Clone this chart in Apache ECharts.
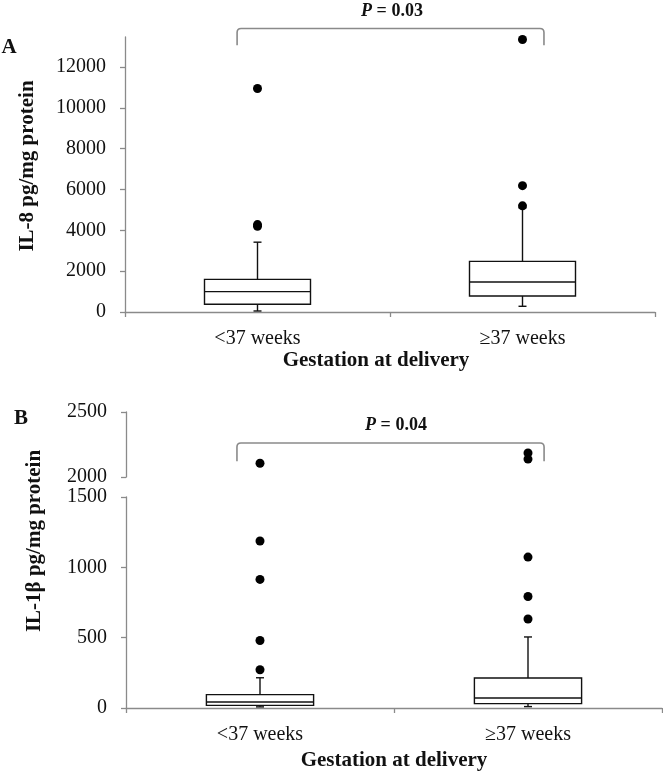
<!DOCTYPE html>
<html><head><meta charset="utf-8">
<script src="https://cdn.jsdelivr.net/npm/echarts@6/dist/echarts.min.js"></script>
<style>html,body{margin:0;padding:0;background:#fff}#c{width:663px;height:776px}</style>
</head><body><div id="c"></div>
<script>
// ---- data ----
const categories = ['<37 weeks', '≥37 weeks'];
// [whisker low, Q1, median, Q3, whisker high]
const il8Box = [[50, 380, 1000, 1600, 3420], [280, 785, 1470, 2480, 5100]];
const il8Outliers = [[0, 4200], [0, 4280], [0, 10950], [1, 5200], [1, 6190], [1, 13350]];
const il1bBox = [[8, 19, 43, 95, 215], [10, 31, 71, 213, 505]];
const il1bOutliers = [[0, 272], [0, 480], [0, 914], [0, 1187], [0, 2106], [1, 633], [1, 793], [1, 1073], [1, 2138], [1, 2185]];
const il8Ticks = [0, 2000, 4000, 6000, 8000, 10000, 12000];
const il1bLowerTicks = [0, 500, 1000, 1500];
const il1bUpperTicks = [2000, 2500];
const pTexts = ['0.03', '0.04'];
const yTitles = ['IL-8 pg/mg protein', 'IL-1β pg/mg protein'];
const xTitle = 'Gestation at delivery';
const panelLetters = ['A', 'B'];

// ---- styling ----
const SERIF = '"Liberation Serif","Times New Roman",serif';
const AXIS_GREY = '#8a8a8a';
const BREAK = 1500;

function boxRender(params, api) {
  const x = api.value(0);
  const lo = api.coord([x, api.value(1)]);
  const q1 = api.coord([x, api.value(2)]);
  const md = api.coord([x, api.value(3)]);
  const q3 = api.coord([x, api.value(4)]);
  const hi = api.coord([x, api.value(5)]);
  const bw = api.size([1, 0])[0] * 0.4;
  const cx = md[0];
  const cap = 4;
  const st = { stroke: '#111', lineWidth: 1.4, fill: null };
  return { type: 'group', children: [
    { type: 'line', shape: { x1: cx, y1: q3[1], x2: cx, y2: hi[1] }, style: st },
    { type: 'line', shape: { x1: cx - cap, y1: hi[1], x2: cx + cap, y2: hi[1] }, style: st },
    { type: 'line', shape: { x1: cx, y1: q1[1], x2: cx, y2: lo[1] }, style: st },
    { type: 'line', shape: { x1: cx - cap, y1: lo[1], x2: cx + cap, y2: lo[1] }, style: st },
    { type: 'rect', shape: { x: cx - bw / 2, y: q3[1], width: bw, height: q1[1] - q3[1] }, style: { fill: '#fff', stroke: '#111', lineWidth: 1.4 } },
    { type: 'line', shape: { x1: cx - bw / 2, y1: md[1], x2: cx + bw / 2, y2: md[1] }, style: st }
  ]};
}

function bracketRender(cfg) {
  return function (params, api) {
    const band = api.size([1, 0])[0];
    const top = api.coord([0, cfg.top]);
    const end = api.coord([0, cfg.end]);
    const c1 = api.coord([1, cfg.top]);
    const x1 = top[0] + cfg.l * band, x2 = c1[0] + cfg.r * band;
    const yT = top[1], yE = end[1], r = 4;
    const txt = api.coord([0, cfg.text]);
    return { type: 'group', children: [
      { type: 'path', shape: { pathData: `M${x1} ${yE} L${x1} ${yT + r} Q${x1} ${yT} ${x1 + r} ${yT} L${x2 - r} ${yT} Q${x2} ${yT} ${x2} ${yT + r} L${x2} ${yE}` },
        style: { stroke: AXIS_GREY, lineWidth: 1.6, fill: null } },
      { type: 'text', x: (top[0] + c1[0]) / 2 + cfg.dx, y: txt[1],
        style: { text: '{i|P} = ' + cfg.p, align: 'center', verticalAlign: 'middle',
          font: 'bold 18px ' + SERIF, fill: '#111',
          rich: { i: { fontStyle: 'italic', fontWeight: 'bold', fontSize: 18, fontFamily: SERIF, fill: '#111' } } } }
    ]};
  };
}

const plain = v => String(v);
function yAxisBase(extra, ticks) {
  return Object.assign({
    type: 'value',
    axisLine: { show: true, lineStyle: { color: AXIS_GREY, width: 1.3 } },
    axisTick: { show: true, length: 5, lineStyle: { color: AXIS_GREY, width: 1.3 }, customValues: ticks },
    axisLabel: { fontFamily: SERIF, fontSize: 20, color: '#111', margin: 19, formatter: plain, customValues: ticks },
    splitLine: { show: false }
  }, extra);
}
function xAxisBase(extra) {
  return Object.assign({
    type: 'category', data: categories, boundaryGap: true,
    axisLine: { show: true, lineStyle: { color: AXIS_GREY, width: 1.3 } },
    axisTick: { show: true, length: 5, interval: 0, lineStyle: { color: AXIS_GREY, width: 1.3 } },
    axisLabel: { fontFamily: SERIF, fontSize: 20, color: '#111', margin: 17, interval: 0 },
    splitLine: { show: false }
  }, extra);
}

const chart = echarts.init(document.getElementById('c'), null, { renderer: 'canvas' });
chart.setOption({
  backgroundColor: '#fff',
  animation: false,
  grid: [
    { left: 125, top: 37, width: 530, height: 275 },
    { left: 126, top: 412, width: 536, height: 65 },
    { left: 126, top: 497, width: 536, height: 211 }
  ],
  xAxis: [
    xAxisBase({ gridIndex: 0, name: xTitle, nameLocation: 'middle', nameGap: 37,
      nameTextStyle: { fontFamily: SERIF, fontSize: 21, fontWeight: 'bold', color: '#111', padding: [0, 28, 0, 0] } }),
    xAxisBase({ gridIndex: 1, show: false }),
    xAxisBase({ gridIndex: 2, name: xTitle, nameLocation: 'middle', nameGap: 42,
      nameTextStyle: { fontFamily: SERIF, fontSize: 21, fontWeight: 'bold', color: '#111' } })
  ],
  yAxis: [
    yAxisBase({ gridIndex: 0, min: 0, max: 13470, interval: 2000 }, il8Ticks),
    yAxisBase({ gridIndex: 1, min: 2000, max: 2500, interval: 500 }, il1bUpperTicks),
    yAxisBase({ gridIndex: 2, min: 0, max: BREAK, interval: 500 }, il1bLowerTicks)
  ],
  graphic: [
    { type: 'text', x: 27.5, y: 166, rotation: Math.PI / 2,
      style: { text: yTitles[0], font: 'bold 21px ' + SERIF, fill: '#111', align: 'center', verticalAlign: 'middle' } },
    { type: 'text', x: 35, y: 541, rotation: Math.PI / 2,
      style: { text: yTitles[1], font: 'bold 21px ' + SERIF, fill: '#111', align: 'center', verticalAlign: 'middle' } },
    { type: 'text', x: 9, y: 48, style: { text: panelLetters[0], font: 'bold 21px ' + SERIF, fill: '#111', align: 'center', verticalAlign: 'middle' } },
    { type: 'text', x: 21, y: 419, style: { text: panelLetters[1], font: 'bold 21px ' + SERIF, fill: '#111', align: 'center', verticalAlign: 'middle' } }
  ],
  series: [
    { type: 'custom', xAxisIndex: 0, yAxisIndex: 0, renderItem: boxRender,
      encode: { x: 0, y: [1, 2, 3, 4, 5] }, data: il8Box.map((b, i) => [i].concat(b)), z: 2 },
    { type: 'scatter', xAxisIndex: 0, yAxisIndex: 0, symbolSize: 9, itemStyle: { color: '#000', opacity: 1 },
      data: il8Outliers, z: 3 },
    { type: 'custom', xAxisIndex: 0, yAxisIndex: 0, clip: false,
      renderItem: bracketRender({ top: 13890, end: 13060, text: 14730, l: -0.077, r: 0.081, dx: 2, p: pTexts[0] }),
      data: [[0]], silent: true },
    { type: 'custom', xAxisIndex: 2, yAxisIndex: 2, renderItem: boxRender,
      encode: { x: 0, y: [1, 2, 3, 4, 5] }, data: il1bBox.map((b, i) => [i].concat(b)), z: 2 },
    { type: 'scatter', xAxisIndex: 2, yAxisIndex: 2, symbolSize: 9, itemStyle: { color: '#000', opacity: 1 },
      data: il1bOutliers.filter(d => d[1] <= BREAK), z: 3 },
    { type: 'scatter', xAxisIndex: 1, yAxisIndex: 1, symbolSize: 9, itemStyle: { color: '#000', opacity: 1 },
      data: il1bOutliers.filter(d => d[1] > BREAK), z: 3 },
    { type: 'custom', xAxisIndex: 1, yAxisIndex: 1, clip: false,
      renderItem: bracketRender({ top: 2262, end: 2122, text: 2394, l: -0.086, r: 0.06, dx: 2, p: pTexts[1] }),
      data: [[0]], silent: true }
  ]
});
</script>
</body></html>
